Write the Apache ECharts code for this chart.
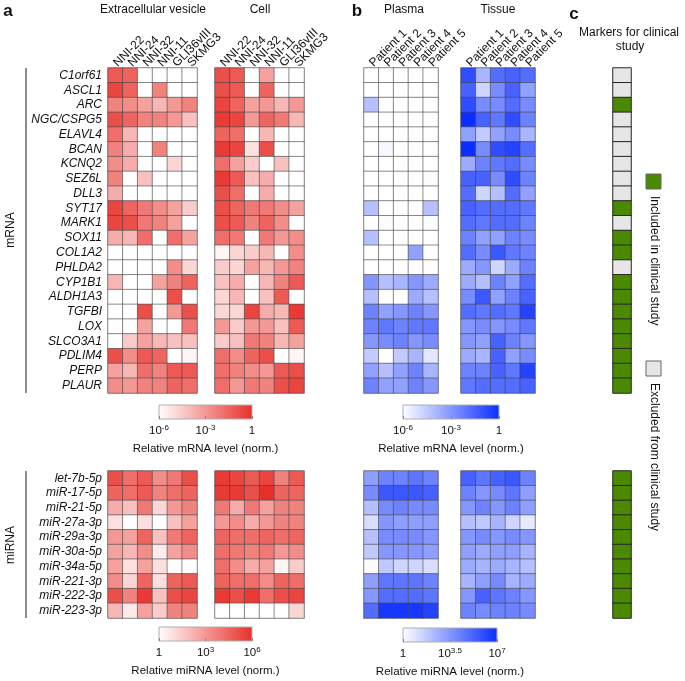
<!DOCTYPE html>
<html><head><meta charset="utf-8">
<script src="https://cdn.jsdelivr.net/npm/echarts@6/dist/echarts.min.js"></script>
<style>html,body{margin:0;padding:0;background:#fff}#c{width:685px;height:681px}</style>
</head><body><div id="c"></div><script>
// ---------------- DATA ----------------
const mRNAGenes = ['C1orf61','ASCL1','ARC','NGC/CSPG5','ELAVL4','BCAN','KCNQ2','SEZ6L','DLL3','SYT17','MARK1','SOX11','COL1A2','PHLDA2','CYP1B1','ALDH1A3','TGFBI','LOX','SLCO3A1','PDLIM4','PERP','PLAUR'];
const miRNAs = ['let-7b-5p','miR-17-5p','miR-21-5p','miR-27a-3p','miR-29a-3p','miR-30a-5p','miR-34a-5p','miR-221-3p','miR-222-3p','miR-223-3p'];
const cellLines = ['NNI-22','NNI-24','NNI-32','NNI-11','GLI36vIII','SKMG3'];
const patients = ['Patient 1','Patient 2','Patient 3','Patient 4','Patient 5'];

// log10 relative mRNA level (norm.), range -6 .. 0
const evMRNA = [
[-1.2,-1.5,-6,-6,-6,-6],[-0.6,-1.5,-6,-2.4,-6,-6],[-2.4,-2.7,-3.3,-3.9,-3.0,-2.4],[-0.9,-1.5,-2.4,-2.4,-3.0,-4.2],
[-1.8,-3.9,-6,-6,-6,-6],[-2.4,-3.6,-6,-2.4,-6,-6],[-2.7,-3.6,-6,-6,-4.8,-6],[-2.4,-6,-4.2,-6,-6,-6],
[-3.6,-6,-6,-6,-6,-6],[-0.6,-1.5,-2.1,-2.7,-3.3,-4.5],[-0.6,-0.9,-2.1,-2.4,-3.3,-6],[-3.6,-3.9,-1.8,-6,-1.8,-3.3],
[-6,-6,-6,-6,-6,-6],[-6,-6,-6,-6,-2.7,-4.8],[-3.9,-6,-6,-3.3,-2.4,-1.5],[-6,-6,-6,-6,-0.9,-6],
[-6,-6,-0.9,-6,-3.0,-0.9],[-6,-6,-3.3,-6,-6,-2.1],[-6,-4.5,-3.3,-3.9,-4.2,-4.2],[-0.9,-2.7,-1.2,-1.5,-6,-5.7],
[-3.3,-3.9,-1.8,-2.4,-1.2,-1.2],[-2.7,-3.0,-2.4,-2.4,-1.5,-1.8]];
const cellMRNA = [
[-0.9,-1.2,-6,-3.3,-6,-6],[-0.9,-1.2,-6,-1.5,-6,-6],[-0.6,-1.5,-3.3,-3.0,-3.9,-3.0],[-0.3,-0.6,-3.0,-1.5,-2.1,-3.9],
[-1.5,-1.8,-6,-3.9,-6,-6],[-0.3,-0.6,-5.1,-0.9,-6,-6],[-1.8,-3.3,-4.5,-6,-4.2,-6],[-0.3,-1.2,-4.2,-3.6,-6,-6],
[-0.9,-1.8,-6,-3.6,-6,-6],[-0.9,-1.5,-2.1,-2.1,-2.7,-3.3],[-0.9,-1.2,-2.4,-1.5,-2.7,-6],[-1.8,-2.1,-6,-2.1,-3.0,-2.7],
[-5.7,-4.8,-4.5,-3.9,-6,-2.7],[-4.5,-4.8,-3.3,-3.9,-3.0,-2.4],[-4.2,-3.6,-6,-3.9,-2.4,-1.2],[-4.8,-3.9,-6,-4.2,-1.2,-6],
[-4.8,-4.8,-0.6,-3.6,-3.9,-0.3],[-3.0,-4.5,-3.0,-3.0,-4.2,-1.2],[-4.5,-4.2,-2.1,-2.4,-3.9,-3.3],[-1.8,-2.7,-1.5,-0.9,-6,-5.7],
[-1.8,-2.4,-2.7,-3.0,-1.2,-0.9],[-1.8,-3.0,-2.1,-2.4,-0.9,-0.6]];
const plasmaMRNA = [
[-6,-6,-6,-6,-6],[-6,-6,-6,-6,-6],[-4.2,-6,-6,-6,-6],[-6,-6,-6,-6,-6],
[-6,-6,-6,-6,-6],[-6,-5.8,-6,-6,-6],[-6,-6,-6,-6,-6],[-6,-6,-6,-6,-5.9],
[-6,-6,-6,-6,-6],[-4.2,-6,-6,-6,-4.2],[-6,-5.9,-6,-6,-5.9],[-4.2,-6,-6,-6,-6],
[-6,-6,-6,-3.3,-6],[-6,-6,-6,-6,-6],[-3.0,-4.2,-3.9,-3.0,-3.6],[-4.2,-6,-6,-3.6,-4.2],
[-2.4,-3.3,-3.0,-2.4,-3.0],[-2.4,-2.1,-2.4,-2.1,-2.1],[-3.0,-2.7,-2.4,-3.0,-2.7],[-4.5,-6,-4.5,-3.9,-5.3],
[-3.3,-4.2,-3.3,-2.4,-3.9],[-2.4,-3.3,-3.3,-2.4,-3.0]];
const tissueMRNA = [
[-0.9,-3.9,-1.8,-1.5,-1.8],[-1.5,-4.8,-2.7,-1.5,-3.3],[-0.9,-2.7,-2.7,-1.8,-2.7],[0,-1.5,-2.1,-0.9,-2.4],
[-3.3,-4.5,-3.3,-2.7,-3.9],[0,-2.7,-0.9,-0.6,-1.8],[-3.6,-2.4,-2.1,-1.8,-2.7],[-1.5,-1.5,-2.7,-0.9,-2.4],
[-1.8,-4.8,-4.2,-1.8,-3.3],[-1.5,-1.8,-1.8,-1.8,-2.1],[-1.8,-2.1,-1.8,-1.8,-2.4],[-2.4,-3.3,-3.3,-2.4,-2.7],
[-1.8,-2.7,-1.2,-2.1,-2.4],[-3.6,-3.0,-4.8,-3.6,-2.4],[-3.6,-4.2,-2.4,-3.3,-1.8],[-2.7,-1.2,-3.3,-2.4,-1.5],
[-1.8,-2.1,-1.8,-2.1,-0.6],[-3.0,-2.7,-3.0,-2.7,-2.1],[-3.0,-3.3,-1.5,-2.4,-3.0],[-3.6,-3.9,-1.5,-3.3,-2.7],
[-2.4,-2.4,-1.5,-2.1,-0.6],[-2.1,-1.8,-1.8,-1.8,-1.5]];
// log10 relative miRNA level (norm.), red: 0 .. 6, blue: 0 .. 7
const evMiRNA = [
[5.1,4.2,4.8,3.3,3.9,5.1],[4.5,4.2,4.8,3.6,4.2,4.5],[2.4,1.8,3.9,1.2,3.0,3.6],[0.9,0,0.9,0,1.8,2.7],
[3.0,2.7,4.5,1.8,3.9,4.5],[2.7,2.1,3.3,0.6,2.7,3.3],[2.7,0.9,2.7,0.9,0,0],[3.3,1.2,4.5,0.9,4.5,4.8],
[5.1,3.6,5.7,1.8,5.1,5.4],[2.1,0.6,2.7,1.5,3.6,3.6]];
const cellMiRNA = [
[5.7,5.4,4.8,5.4,3.6,4.8],[5.7,5.7,5.1,6.0,4.5,4.5],[3.9,2.4,3.9,2.7,3.6,3.6],[3.0,3.3,2.4,3.0,3.6,3.6],
[4.5,4.2,4.2,4.5,4.2,4.5],[4.2,3.9,3.6,3.9,3.0,3.3],[4.2,3.3,2.4,2.7,0.3,1.5],[4.5,4.2,4.2,3.3,4.5,4.2],
[5.7,5.1,5.7,4.2,5.1,5.4],[0,0,0,0,0,1.2]];
const plasmaMiRNA = [
[3.2,4.2,4.2,4.6,4.2],[3.9,5.6,5.6,5.6,5.3],[2.1,3.9,4.2,3.9,3.9],[1.1,3.5,3.2,3.2,3.2],
[2.1,3.9,3.9,3.9,3.5],[1.8,3.5,3.5,3.5,3.2],[0.1,1.8,1.4,1.4,1.1],[3.2,4.6,4.6,4.6,4.2],
[3.5,4.9,4.9,4.9,4.6],[4.9,6.7,6.7,6.7,6.3]];
const tissueMiRNA = [
[5.3,4.6,5.3,5.6,4.2],[4.2,3.5,3.9,4.6,3.2],[3.5,4.2,3.5,4.2,3.2],[2.1,1.8,2.5,1.4,0.7],
[3.5,3.9,3.5,3.9,3.5],[3.2,2.8,3.2,3.2,2.5],[2.8,2.5,2.8,2.5,2.1],[2.5,3.2,3.9,2.5,2.8],
[3.5,5.3,4.6,4.2,3.5],[4.2,3.9,4.2,4.2,3.9]];
// 1 = included in clinical study, 0 = excluded
const clinicalMRNA = [0,0,1,0,0,0,0,0,0,1,0,1,1,0,1,1,1,1,1,1,1,1];
const clinicalMiRNA = [1,1,1,1,1,1,1,1,1,1];
// colour-bar scales (log10) and tick labels
const mRNAScale = {min:-6, max:0, interval:3, labels:{'-6':'10{s|-6}','-3':'10{s|-3}','0':'1'}};
const redMiRNAScale = {min:0, max:6, interval:3, labels:{'0':'1','3':'10{s|3}','6':'10{s|6}'}};
const blueMiRNAScale = {min:0, max:7, interval:3.5, labels:{'0':'1','3.5':'10{s|3.5}','7':'10{s|7}'}};

// ---------------- STYLE / LAYOUT ----------------
const FONT = "'Liberation Sans', Arial, Helvetica, sans-serif";
const RED = '#e8302a', BLUE = '#0a2eff', GREEN = '#4b8a00', GREY = '#e6e6e6';
const mTop = 68, mH = 325, miTop = 471, miH = 147;
const blocks = [
  {left:108, width:89, top:mTop, height:mH, cols:cellLines, rows:mRNAGenes, data:evMRNA, colLabels:true, rowLabels:true},
  {left:215, width:89, top:mTop, height:mH, cols:cellLines, rows:mRNAGenes, data:cellMRNA, colLabels:true, rowLabels:false},
  {left:364, width:74, top:mTop, height:mH, cols:patients, rows:mRNAGenes, data:plasmaMRNA, colLabels:true, rowLabels:false},
  {left:461, width:74, top:mTop, height:mH, cols:patients, rows:mRNAGenes, data:tissueMRNA, colLabels:true, rowLabels:false},
  {left:108, width:89, top:miTop, height:miH, cols:cellLines, rows:miRNAs, data:evMiRNA, colLabels:false, rowLabels:true},
  {left:215, width:89, top:miTop, height:miH, cols:cellLines, rows:miRNAs, data:cellMiRNA, colLabels:false, rowLabels:false},
  {left:364, width:74, top:miTop, height:miH, cols:patients, rows:miRNAs, data:plasmaMiRNA, colLabels:false, rowLabels:false},
  {left:461, width:74, top:miTop, height:miH, cols:patients, rows:miRNAs, data:tissueMiRNA, colLabels:false, rowLabels:false}
];
const clinical = [
  {left:613, width:18, top:mTop, height:mH, rows:mRNAGenes, data:clinicalMRNA},
  {left:613, width:18, top:miTop, height:miH, rows:miRNAs, data:clinicalMiRNA}
];
const bars = [
  {left:159, top:405, width:93, height:14, scale:mRNAScale, color:RED, name:'Relative mRNA level (norm.)'},
  {left:403, top:405, width:96, height:14, scale:mRNAScale, color:BLUE, name:'Relative mRNA level (norm.)'},
  {left:159, top:627, width:93, height:14, scale:redMiRNAScale, color:RED, name:'Relative miRNA level (norm.)'},
  {left:403, top:628, width:94, height:14, scale:blueMiRNAScale, color:BLUE, name:'Relative miRNA level (norm.)'}
];

const grid = [], xAxis = [], yAxis = [], series = [];
const hidden = {axisLine:{show:false}, axisTick:{show:false}, splitLine:{show:false}};
blocks.forEach((b, i) => {
  grid.push({left:b.left, top:b.top, width:b.width, height:b.height, show:true, borderColor:'#bdbdbd', borderWidth:1.2, backgroundColor:'#fff', containLabel:false, outerBoundsMode:'none'});
  xAxis.push(Object.assign({gridIndex:i, type:'category', data:b.cols, position:'top',
    axisLabel:{show:b.colLabels, rotate:-45, align:'left', verticalAlign:'middle', interval:0, margin:3, fontSize:12, color:'#111', fontFamily:FONT}}, hidden));
  yAxis.push(Object.assign({gridIndex:i, type:'category', data:b.rows, inverse:true,
    axisLabel:{show:b.rowLabels, interval:0, margin:6, fontSize:12, fontStyle:'italic', color:'#111', fontFamily:FONT}}, hidden));
  const d = [];
  b.data.forEach((row, r) => row.forEach((v, c) => d.push([c, r, v])));
  series.push({type:'heatmap', xAxisIndex:i, yAxisIndex:i, data:d, silent:true,
    itemStyle:{borderColor:'rgba(70,70,70,0.85)', borderWidth:0.7}, emphasis:{disabled:true}});
});
clinical.forEach((b) => {
  const i = grid.length;
  grid.push({left:b.left, top:b.top, width:b.width, height:b.height, containLabel:false, outerBoundsMode:'none'});
  xAxis.push(Object.assign({gridIndex:i, type:'category', data:['study'], axisLabel:{show:false}}, hidden));
  yAxis.push(Object.assign({gridIndex:i, type:'category', data:b.rows, inverse:true, axisLabel:{show:false}}, hidden));
  series.push({type:'heatmap', xAxisIndex:i, yAxisIndex:i, data:b.data.map((v, r) => [0, r, v]), silent:true,
    itemStyle:{borderColor:'#262626', borderWidth:1}, emphasis:{disabled:true}});
});
bars.forEach((b) => {
  const i = grid.length;
  grid.push({left:b.left, top:b.top, width:b.width, height:b.height, show:true, borderColor:'#b0b0b0', borderWidth:1,
    backgroundColor:{type:'linear', x:0, y:0, x2:1, y2:0, colorStops:[{offset:0, color:'#ffffff'}, {offset:1, color:b.color}]},
    containLabel:false, outerBoundsMode:'none'});
  xAxis.push({gridIndex:i, type:'value', min:b.scale.min, max:b.scale.max, interval:b.scale.interval, position:'bottom',
    name:b.name, nameLocation:'middle', nameGap:24, nameTextStyle:{fontSize:11.5, color:'#111', fontFamily:FONT},
    axisLine:{show:false}, splitLine:{show:false},
    axisTick:{show:true, inside:true, length:3, lineStyle:{color:'#888'}},
    axisLabel:{margin:5, fontSize:11.5, color:'#111', fontFamily:FONT, lineHeight:14, showMinLabel:true, showMaxLabel:true,
      formatter:(v) => b.scale.labels[String(v)] || '',
      rich:{s:{fontSize:8, lineHeight:8, verticalAlign:'top', color:'#111', fontFamily:FONT}}}});
  yAxis.push({gridIndex:i, type:'value', show:false, min:0, max:1});
});

const visualMap = [
  {type:'continuous', show:false, min:-6, max:0, seriesIndex:[0,1], inRange:{color:['#ffffff', RED]}},
  {type:'continuous', show:false, min:-6, max:0, seriesIndex:[2,3], inRange:{color:['#ffffff', BLUE]}},
  {type:'continuous', show:false, min:0, max:6, seriesIndex:[4,5], inRange:{color:['#ffffff', RED]}},
  {type:'continuous', show:false, min:0, max:7, seriesIndex:[6,7], inRange:{color:['#ffffff', BLUE]}},
  {type:'piecewise', show:false, seriesIndex:[8,9], pieces:[{value:1, color:GREEN}, {value:0, color:GREY}]}
];

function txt(text, x, y, o) {
  return Object.assign({type:'text', x:x, y:y, silent:true,
    style:Object.assign({text:text, fontSize:12, fontFamily:FONT, fill:'#111', align:'center', verticalAlign:'middle'}, (o && o.style) || {})},
    o ? {rotation:o.rotation || 0} : {});
}
const graphic = [
  txt('a', 8, 11, {style:{fontSize:17, fontWeight:'bold'}}),
  txt('b', 357, 11, {style:{fontSize:17, fontWeight:'bold'}}),
  txt('c', 574, 14, {style:{fontSize:17, fontWeight:'bold'}}),
  txt('Extracellular vesicle', 153, 10),
  txt('Cell', 260, 10),
  txt('Plasma', 404, 10),
  txt('Tissue', 498, 10),
  txt('Markers for clinical', 629, 33),
  txt('study', 630, 47),
  txt('mRNA', 11, 230, {rotation:Math.PI/2}),
  txt('miRNA', 11, 545, {rotation:Math.PI/2}),
  {type:'line', silent:true, shape:{x1:26, y1:mTop, x2:26, y2:mTop + mH}, style:{stroke:'#8c8c8c', lineWidth:2}},
  {type:'line', silent:true, shape:{x1:26, y1:miTop, x2:26, y2:miTop + miH}, style:{stroke:'#8c8c8c', lineWidth:2}},
  {type:'rect', silent:true, shape:{x:646, y:174, width:15, height:15}, style:{fill:GREEN, stroke:'#666', lineWidth:1}},
  {type:'rect', silent:true, shape:{x:646, y:361, width:15, height:15}, style:{fill:GREY, stroke:'#666', lineWidth:1}},
  txt('Included in clinical study', 654, 196, {rotation:-Math.PI/2, style:{align:'left'}}),
  txt('Excluded from clinical study', 654, 383, {rotation:-Math.PI/2, style:{align:'left'}})
];

const chart = echarts.init(document.getElementById('c'), null, {renderer:'canvas'});
chart.setOption({animation:false, backgroundColor:'#fff', grid, xAxis, yAxis, series, visualMap, graphic});
</script></body></html>
